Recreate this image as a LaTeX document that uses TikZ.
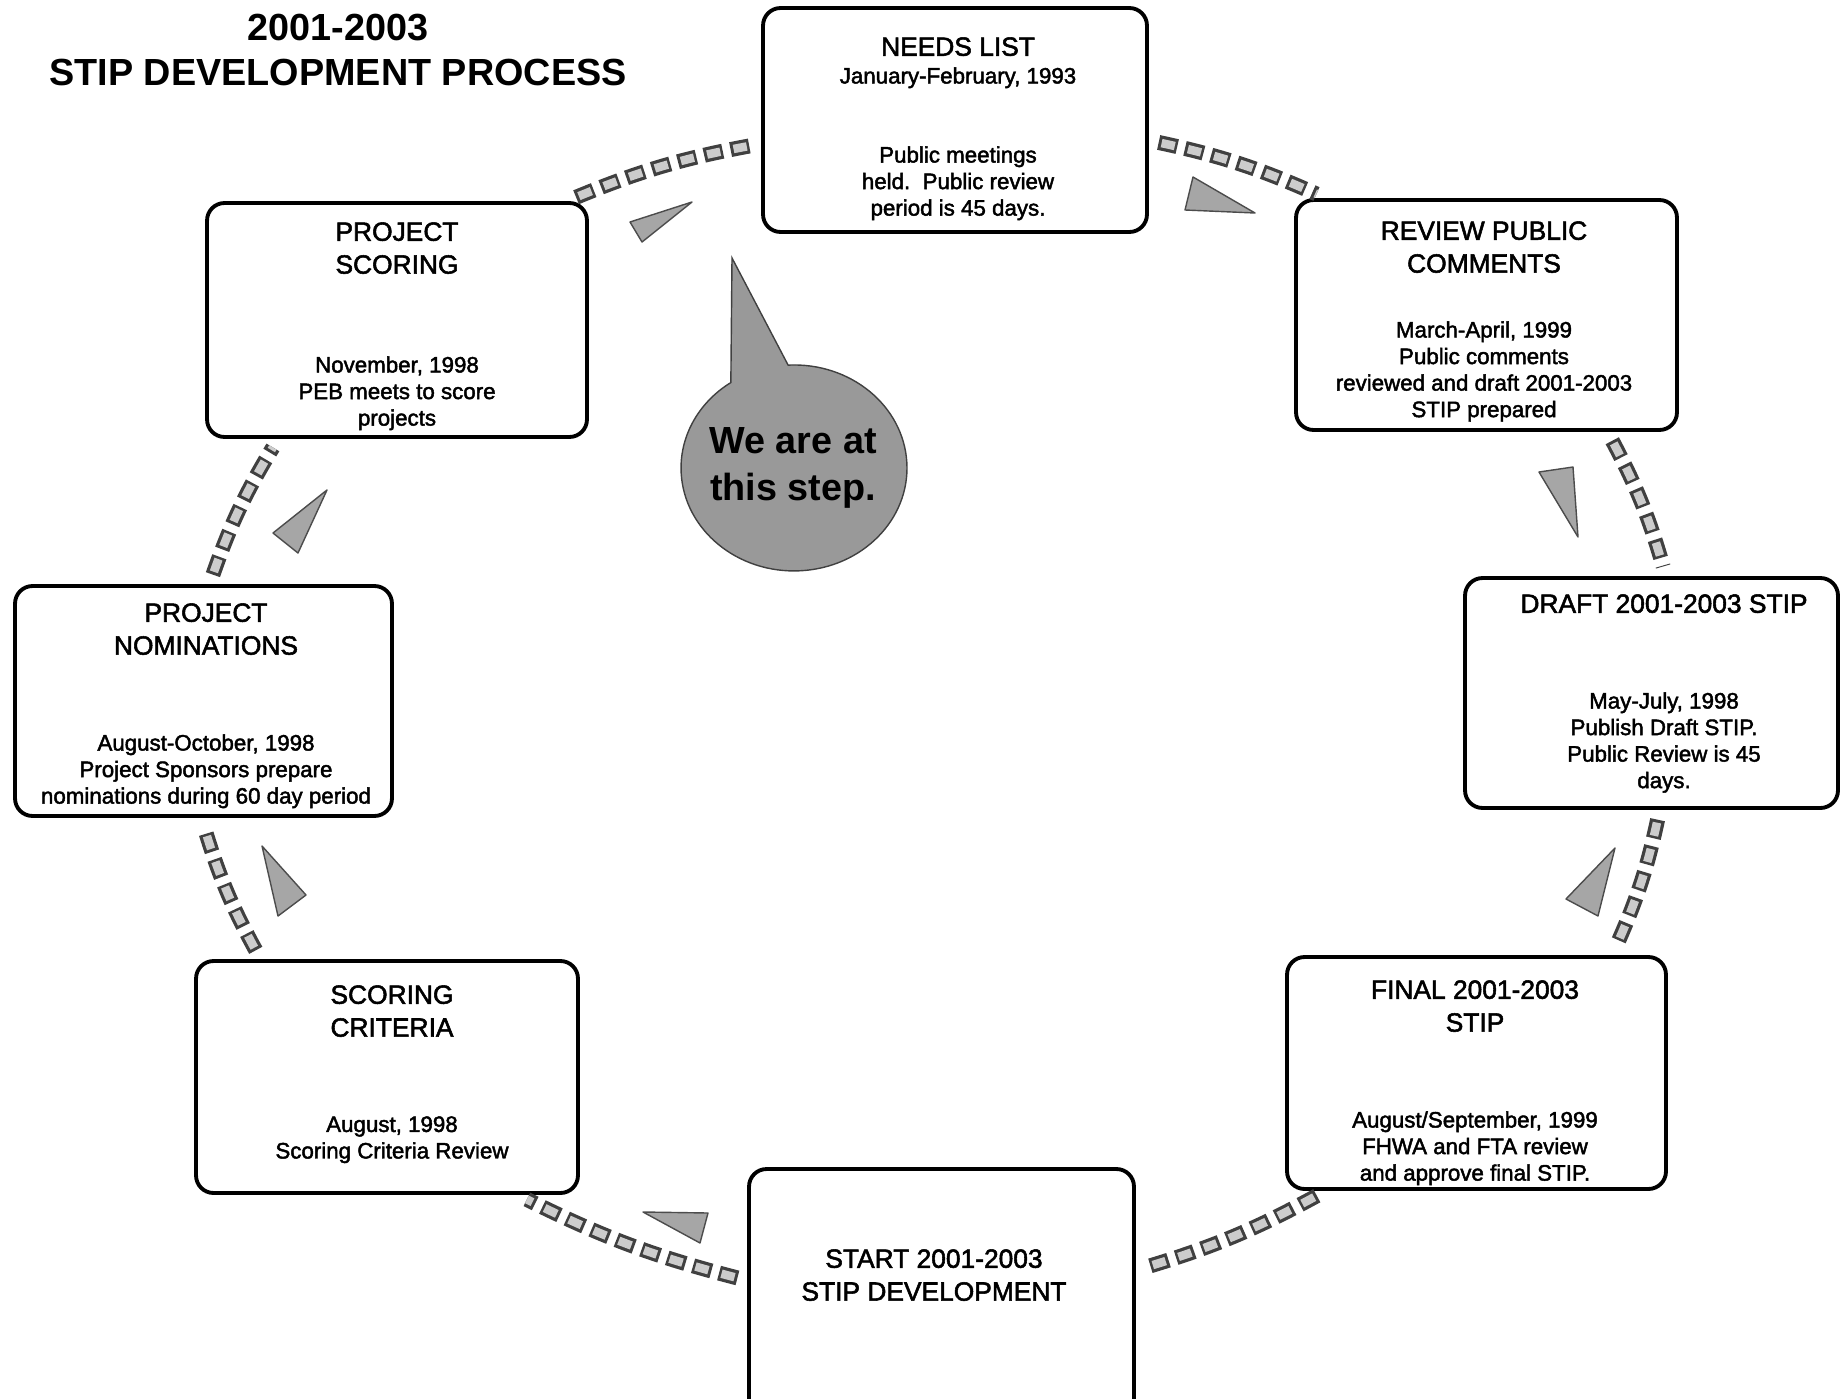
\documentclass[tikz,border=0pt]{standalone}
\usepackage{fontspec}
\setmainfont{Liberation Sans}
\newfontfamily\scanfont{Liberation Sans}[FakeBold=2]

\tikzset{
  stepbox/.style={draw, line width=2.2pt, rounded corners=0.35cm, fill=white, inner sep=0pt},
  headtxt/.style={anchor=north, align=center, inner sep=0pt, font=\scanfont\fontsize{15}{18.7}\selectfont},
  bodytxt/.style={anchor=north, align=center, inner sep=0pt, font=\scanfont\fontsize{12.7}{15.1}\selectfont},
  link/.style={black!75, line width=0.3cm, dash pattern=on 0.38cm off 0.16cm,
    shorten <=0.2cm, shorten >=0.2cm,
    postaction={draw=gray!40, line width=0.17cm, dash pattern=on 0.27cm off 0.27cm, dash phase=0.48cm}},
  tri/.style={fill=gray!70, draw=black!70, line width=0.8pt, line join=round},
  bubble/.style={fill=gray!80, draw=black!75, line width=0.8pt},
}

\begin{document}
\begin{tikzpicture}[x=0.02cm, y=0.02cm]
  \useasboundingbox (0,0) rectangle (1842,-1399);

  % title
  \node[anchor=north, align=center, font=\bfseries\fontsize{21.5}{25.5}\selectfont] (title) at (338,-8)
    {2001-2003\\STIP DEVELOPMENT PROCESS};

  % the eight steps
  \node[stepbox, minimum width=7.68cm, minimum height=4.48cm] (needs) at (955,-120) {};
  \node[stepbox, minimum width=7.62cm, minimum height=4.6cm] (review) at (1486.5,-315) {};
  \node[stepbox, minimum width=7.46cm, minimum height=4.6cm] (draft) at (1651.5,-693) {};
  \node[stepbox, minimum width=7.58cm, minimum height=4.64cm] (final) at (1476.5,-1073) {};
  \node[stepbox, minimum width=7.7cm, minimum height=5cm] (start) at (941.5,-1294) {};
  \node[stepbox, minimum width=7.64cm, minimum height=4.64cm] (criteria) at (387,-1077) {};
  \node[stepbox, minimum width=7.54cm, minimum height=4.6cm] (nominate) at (203.5,-701) {};
  \node[stepbox, minimum width=7.6cm, minimum height=4.68cm] (scoring) at (397,-320) {};

  \node[headtxt] (needsH) at (958,-37) {NEEDS LIST};
  \node[bodytxt] (needsB) at (958,-67) {January-February, 1993\\[1.05cm]Public meetings\\held.\ \ Public review\\period is 45 days.};

  \node[headtxt] (reviewH) at (1484,-221) {REVIEW PUBLIC\\COMMENTS};
  \node[bodytxt] (reviewB) at (1484,-321) {March-April, 1999\\Public comments\\reviewed and draft 2001-2003\\STIP prepared};

  \node[headtxt] (draftH) at (1664,-594) {DRAFT 2001-2003 STIP};
  \node[bodytxt] (draftB) at (1664,-692) {May-July, 1998\\Publish Draft STIP.\\Public Review is 45\\days.};

  \node[headtxt] (finalH) at (1475,-980) {FINAL 2001-2003\\STIP};
  \node[bodytxt] (finalB) at (1475,-1111) {August/September, 1999\\FHWA and FTA review\\and approve final STIP.};

  \node[headtxt] (startH) at (934,-1249) {START 2001-2003\\STIP DEVELOPMENT};

  \node[headtxt] (criteriaH) at (392,-985) {SCORING\\CRITERIA};
  \node[bodytxt] (criteriaB) at (392,-1116) {August, 1998\\Scoring Criteria Review};

  \node[headtxt] (nominateH) at (206,-603) {PROJECT\\NOMINATIONS};
  \node[bodytxt] (nominateB) at (206,-734) {August-October, 1998\\Project Sponsors prepare\\nominations during 60 day period};

  \node[headtxt] (scoringH) at (397,-222) {PROJECT\\SCORING};
  \node[bodytxt] (scoringB) at (397,-356) {November, 1998\\PEB meets to score\\projects};

  % dashed links round the cycle
  \foreach \a/\b in {start.176/criteria.-42, criteria.137/nominate.-91, nominate.87/scoring.-135,
                     scoring.35/needs.187, needs.-6/review.144, review.-44/draft.83,
                     draft.-86/final.41, final.218/start.7}
    \draw[link] (\a) to[bend left=6] (\b);

  % arrow heads beside the links
  \filldraw[tri] (643,-1212) -- (708,-1213) -- (700,-1243) -- cycle;
  \filldraw[tri] (327,-490) -- (273,-533) -- (298,-553) -- cycle;
  \filldraw[tri] (692,-202) -- (630,-222) -- (642,-242) -- cycle;
  \filldraw[tri] (1255,-213) -- (1193,-177) -- (1185,-210) -- cycle;
  \filldraw[tri] (1578,-537) -- (1573,-467) -- (1539,-472) -- cycle;
  \filldraw[tri] (1615,-848) -- (1566,-899) -- (1598,-916) -- cycle;
  \filldraw[tri] (278,-916) -- (262,-846) -- (306,-895) -- cycle;

  % speech bubble
  \filldraw[bubble] (732,-258) -- (788.1,-365.1)
    arc[start angle=93, end angle=-236, x radius=2.26cm, y radius=2.06cm] -- cycle;
  \node[align=center, inner sep=0pt, font=\bfseries\fontsize{21.5}{26.7}\selectfont] (here) at (793,-468)
    {We are at\\this step.};
\end{tikzpicture}
\end{document}
